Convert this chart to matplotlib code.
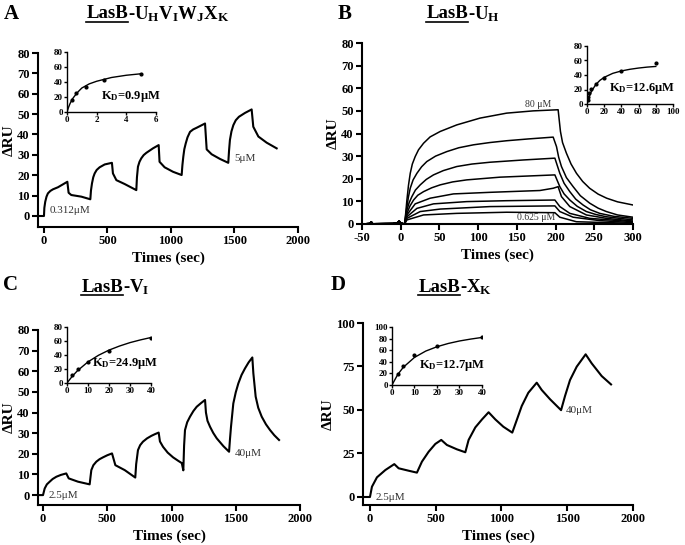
import matplotlib
matplotlib.use("Agg")
import matplotlib.pyplot as plt
from matplotlib.lines import Line2D

plt.rcParams['font.family'] = ['Liberation Serif', 'DejaVu Serif']
plt.rcParams['font.weight'] = 'bold'
plt.rcParams['mathtext.fontset'] = 'custom'
plt.rcParams['mathtext.rm'] = 'Liberation Serif:bold'
plt.rcParams['mathtext.bf'] = 'Liberation Serif:bold'
plt.rcParams['mathtext.it'] = 'Liberation Serif:bold'
plt.rcParams['mathtext.default'] = 'bf'
plt.rcParams['axes.unicode_minus'] = False

# ---- panel A: LasB-UHVIWJXK, single cycle kinetics
a_t = [-45, 0, 3, 10, 20, 31, 50, 71, 110, 184, 194, 215, 294, 365,
       370, 378, 388, 399, 415, 438, 478, 535, 543, 570, 635, 727,
       732, 740, 752, 766, 785, 806, 858, 903, 910, 950, 1016, 1084,
       1090, 1097, 1105, 1116, 1130, 1150, 1175, 1202, 1268, 1281, 1320, 1386, 1451,
       1457, 1464, 1476, 1491, 1510, 1535, 1583, 1635, 1648, 1688, 1753, 1832]
a_ru = [0, 0, 4.0, 7.0, 9.5, 11.1, 12.3, 13.1, 14.1, 16.8, 11.4, 10.3, 9.5, 8.2,
        12.5, 16.0, 19.0, 20.9, 22.6, 23.9, 25.3, 26.1, 20.9, 17.6, 15.7, 12.7,
        19.0, 24.2, 26.6, 28.3, 29.9, 31.0, 33.2, 34.8, 26.6, 23.9, 21.7, 20.1,
        25.0, 29.1, 32.8, 35.6, 38.6, 41.3, 42.5, 43.3, 45.4, 32.7, 30.3, 28.0, 26.1,
        32.0, 37.3, 41.5, 44.6, 47.0, 48.7, 50.6, 52.3, 43.8, 39.0, 36.0, 33.2]
a_conc = [0.3125, 0.625, 1.25, 2.5, 5]
a_req = [16, 26, 34, 43, 51]
a_fit_c = [0, 0.1, 0.2, 0.35, 0.5, 0.75, 1, 1.5, 2, 3, 4, 5]
a_fit_r = [0, 6, 11, 17, 21, 27, 32, 37.5, 41, 46, 49, 51]

# ---- panel B: LasB-UH, multi cycle (80 ... 0.625 uM)
b_base_t = [-50, -40, -38, -36, -10, -4, -2, 0, 5]
b_base_ru = [0, 0.2, 0.9, 0.1, 0.2, 0.6, 1.3, 0.4, 0]
b_t = [
    [6.5, 8.0, 10, 12.3, 15, 18.7, 23, 29.5, 38, 51, 72.4, 102.4, 136.8, 171.1, 203.3,
     206.3, 209, 214, 220, 227, 235, 244, 255, 266, 280, 300],
    [8.0, 10, 12.3, 16, 20.9, 27, 33.7, 45, 59.5, 75, 94, 115, 136.8, 165, 196.9,
     201.2, 204, 207.6, 214, 222.7, 232, 244.1, 255, 265.6, 280, 300],
    [8.0, 11, 14.4, 19, 25.2, 33, 42.3, 55, 72.4, 92, 115.3, 158.3, 199.1,
     205.5, 211, 218.4, 226, 235.5, 245, 257, 275, 300],
    [8.0, 12, 16.6, 22, 29.5, 40, 51, 67, 85.3, 128.2, 199.1,
     205.5, 211, 218.4, 228, 239.8, 252, 265.6, 300],
    [8.0, 18.7, 38.0, 68.1, 115.3, 179.7, 196.9, 203.3, 207.6, 218.4, 239.8, 265.6, 300],
    [8.0, 20.9, 42.3, 85.3, 136.8, 199.1, 205.5, 218.4, 244.1, 300],
    [8.0, 25.2, 51, 115.3, 199.1, 205.5, 222.7, 257, 300],
    [8.0, 29.5, 72.4, 136.8, 199.1, 205.5, 226.9, 300],
]
b_ru = [
    [5.0, 10.6, 17.0, 22.4, 26.5, 29.8, 32.8, 35.7, 38.5, 40.9, 43.8, 46.8, 49.0, 50.0, 50.5,
     40.9, 36.0, 31.3, 26.5, 22.4, 18.8, 15.8, 13.2, 11.4, 9.8, 8.4],
    [7.7, 12.0, 15.8, 19.5, 22.4, 25.3, 27.6, 30.0, 32.0, 33.7, 35.0, 36.0, 36.8, 37.6, 38.4,
     34.2, 29.5, 25.4, 20.5, 16.5, 12.5, 9.2, 7.0, 5.5, 4.0, 3.0],
    [6.2, 9.5, 12.1, 15.0, 17.3, 19.7, 21.7, 23.6, 25.4, 26.5, 27.3, 28.3, 29.1,
     22.4, 18.0, 14.3, 11.0, 8.4, 6.3, 4.7, 3.4, 2.5],
    [4.7, 8.0, 10.6, 12.7, 14.3, 16.0, 17.3, 18.6, 19.5, 20.7, 21.7,
     16.5, 13.3, 10.6, 7.8, 5.5, 4.2, 3.2, 1.8],
    [4.0, 8.9, 11.4, 13.3, 14.0, 14.8, 15.8, 16.5, 12.1, 7.7, 4.0, 2.5, 1.3],
    [3.2, 6.9, 8.9, 9.9, 10.3, 10.6, 7.7, 4.7, 2.5, 1.0],
    [2.5, 5.5, 6.6, 7.7, 8.0, 5.5, 3.0, 1.5, 0.6],
    [1.8, 4.0, 4.7, 5.2, 5.0, 3.0, 1.0, 0.3],
]
b_conc = [0.625, 1.25, 2.5, 5, 10, 20, 40, 80]
b_req = [5, 9, 15, 21, 27, 36, 46, 56]
b_fit_c = [0, 1, 2.5, 5, 10, 15, 20, 30, 40, 50, 60, 70, 80]
b_fit_r = [0, 4.4, 9.9, 17, 26.5, 32.6, 36.8, 42.3, 45.6, 47.9, 49.6, 50.9, 51.8]

# ---- panel C: LasB-VI
c_t = [-39, 0, 13, 30, 52, 75, 104, 140, 181, 200, 272, 363,
       370, 376, 392, 415, 440, 467, 500, 537, 563, 636, 718,
       725, 739, 756, 778, 810, 843, 870, 900, 910, 934, 970, 1012, 1050, 1080, 1092,
       1098, 1105, 1122, 1144, 1170, 1196, 1230, 1261, 1268, 1280, 1300, 1325, 1352, 1404, 1448,
       1455, 1463, 1481, 1500, 1520, 1545, 1572, 1600, 1629,
       1637, 1655, 1675, 1702, 1735, 1767, 1800, 1837]
c_ru = [0, 0, 3.2, 5.2, 6.5, 7.8, 8.9, 9.8, 10.5, 8.1, 6.5, 5.2,
        9.0, 12.1, 14.5, 16.2, 17.4, 18.3, 19.3, 20.2, 14.5, 12.1, 8.5,
        15.0, 21.8, 24.2, 25.9, 27.5, 28.7, 29.5, 30.3, 26.0, 23.4, 20.6, 18.3, 16.7, 15.5, 12.0,
        24.0, 31.5, 35.3, 38.0, 40.7, 42.8, 44.6, 46.1, 40.0, 36.0, 33.1, 30.1, 27.5, 23.7, 21.0,
        27.0, 33.1, 44.4, 49.8, 54.1, 58.2, 61.4, 64.3, 66.7,
        59.0, 47.7, 42.3, 38.0, 34.3, 31.5, 29.0, 26.7]
c_conc = [2.5, 5, 10, 20, 40]
c_req = [11, 20, 30, 46, 65]
c_fit_c = [0, 2.5, 5, 10, 15, 20, 25, 30, 35, 40]
c_fit_r = [0, 9.6, 17.6, 30.2, 39.6, 47.0, 52.8, 57.7, 61.6, 65.0]

# ---- panel D: LasB-XK
d_t = [-53, 0, 15, 53, 117, 185, 218, 294, 357, 395, 446, 497, 542, 585, 661, 725, 750, 801, 852,
       902, 953, 1014, 1082, 1116, 1154, 1204, 1268, 1306, 1369, 1453, 1483, 1521, 1572, 1640,
       1686, 1762, 1833]
d_ru = [0, 0, 5.9, 11.3, 15.5, 18.9, 16.5, 15.1, 14.0, 20.3, 26.0, 30.5, 32.8, 29.9, 27.4, 25.7,
        32.8, 40.0, 44.6, 48.7, 44.6, 40.4, 37.0, 44.2, 52.3, 59.9, 65.7, 61.5, 56.2, 49.9, 58.0,
        67.2, 74.9, 82.0, 76.8, 69.5, 64.7]
d_conc = [2.5, 5, 10, 20, 40]
d_req = [19, 33, 51, 67, 82]
d_fit_c = [0, 2.5, 5, 10, 15, 20, 25, 30, 35, 40]
d_fit_r = [0, 17.8, 30.5, 47.6, 58.5, 66, 71.6, 75.9, 79.2, 82]

W, H = 685, 545
fig = plt.figure(figsize=(W / 100, H / 100), dpi=100)


def px_axes(l, r, t, b):
    # axes from pixel edges (origin top-left)
    return fig.add_axes([l / W, 1 - b / H, (r - l) / W, (b - t) / H])


def style(ax, small=False):
    for s in ['top', 'right']:
        ax.spines[s].set_visible(False)
    lw = 1.0 if small else 1.5
    for s in ['left', 'bottom']:
        ax.spines[s].set_linewidth(lw)
    ax.tick_params(direction='out', length=2 if small else 4, width=lw,
                   labelsize=6.5 if small else 9, pad=1 if small else 2)
    for lab in ax.get_xticklabels() + ax.get_yticklabels():
        lab.set_fontweight('bold')


def main_labels(ax):
    ax.set_xlabel('Times (sec)', fontsize=11, fontweight='bold', labelpad=3)
    ax.set_ylabel('ΔRU', fontsize=11, fontweight='bold', labelpad=1)


def inset(l, r, t, b, xs, ys, fx, fy, xlim, ylim, xt, yt, kd, kdpos):
    ax = px_axes(l, r, t, b)
    ax.plot(fx, fy, color='black', lw=1.0)
    ax.plot(xs, ys, 'o', color='black', ms=2)
    ax.set_xlim(*xlim)
    ax.set_ylim(*ylim)
    ax.set_xticks(xt)
    ax.set_yticks(yt)
    style(ax, small=True)
    ax.text(kdpos[0], kdpos[1], kd, transform=ax.transAxes, fontsize=9, fontweight='bold')
    return ax


def title(x, y, rest):
    t1 = fig.text(x / W, 1 - y / H, 'LasB', ha='right', va='center', fontsize=13.5, fontweight='bold')
    fig.text(x / W, 1 - y / H, rest, ha='left', va='center', fontsize=13.5, fontweight='bold')
    return t1


# panel A
axA = px_axes(38, 298, 53, 227)
axA.plot(a_t, a_ru, color='black', lw=1.5)
axA.set_xlim(-47, 2000)
axA.set_ylim(-5.4, 80)
axA.set_xticks([0, 500, 1000, 1500, 2000])
axA.set_yticks(range(0, 81, 10))
style(axA)
main_labels(axA)
axA.text(48, 1.5, '0.312μM', fontsize=8, fontweight='normal', color='#333333')
axA.text(1500, 27, '5μM', fontsize=8, fontweight='normal', color='#333333')
inset(67, 156, 52, 112, a_conc, a_req, a_fit_c, a_fit_r, (0, 6), (0, 80),
      [0, 2, 4, 6], [0, 20, 40, 60, 80], 'K$_{D}$=0.9μM', (0.38, 0.22))

# panel B
axB = px_axes(362, 633, 43, 224)
for ts, rs in zip(b_t, b_ru):
    axB.plot(b_base_t + ts, b_base_ru + rs, color='black', lw=1.1)
axB.set_xlim(-50, 300)
axB.set_ylim(0, 80)
axB.set_xticks(range(-50, 301, 50))
axB.set_yticks(range(0, 81, 10))
style(axB)
main_labels(axB)
axB.text(160, 51.5, '80 μM', fontsize=7, fontweight='normal', color='#333333')
axB.text(150, 1.8, '0.625 μM', fontsize=7, fontweight='normal', color='#333333')
inset(587, 673, 46, 104, b_conc, b_req, b_fit_c, b_fit_r, (0, 100), (0, 80),
      range(0, 101, 20), range(0, 81, 20), 'K$_{D}$=12.6μM', (0.26, 0.22))

# panel C
axC = px_axes(38, 300, 330, 505)
axC.plot(c_t, c_ru, color='black', lw=1.5)
axC.set_xlim(-39, 2000)
axC.set_ylim(-4.8, 80)
axC.set_xticks([0, 500, 1000, 1500, 2000])
axC.set_yticks(range(0, 81, 10))
style(axC)
main_labels(axC)
axC.text(40, -1.5, '2.5μM', fontsize=8, fontweight='normal', color='#333333')
axC.text(1490, 19, '40μM', fontsize=8, fontweight='normal', color='#333333')
inset(67, 151, 327, 383, c_conc, c_req, c_fit_c, c_fit_r, (0, 40), (0, 80),
      [0, 10, 20, 30, 40], [0, 20, 40, 60, 80], 'K$_{D}$=24.9μM', (0.3, 0.3))

# panel D
axD = px_axes(363, 633, 323, 505)
axD.plot(d_t, d_ru, color='black', lw=1.5)
axD.set_xlim(-53, 2000)
axD.set_ylim(-4.6, 100)
axD.set_xticks([0, 500, 1000, 1500, 2000])
axD.set_yticks([0, 25, 50, 75, 100])
style(axD)
main_labels(axD)
axD.text(40, -1.5, '2.5μM', fontsize=8, fontweight='normal', color='#333333')
axD.text(1490, 48, '40μM', fontsize=8, fontweight='normal', color='#333333')
inset(392, 482, 327, 385, d_conc, d_req, d_fit_c, d_fit_r, (0, 40), (0, 100),
      [0, 10, 20, 30, 40], range(0, 101, 20), 'K$_{D}$=12.7μM', (0.3, 0.3))

# panel letters and titles
for lx, ly, letter in [(11, 14, 'A'), (345, 14, 'B'), (10, 285, 'C'), (338, 285, 'D')]:
    fig.text(lx / W, 1 - ly / H, letter, ha='center', va='center', fontsize=15, fontweight='bold')

titles = [
    title(128, 14, '-U$_{H}$V$_{I}$W$_{J}$X$_{K}$'),
    title(468, 14, '-U$_{H}$'),
    title(123, 287, '-V$_{I}$'),
    title(460, 287, '-X$_{K}$'),
]

# underline "LasB"
fig.canvas.draw()
rend = fig.canvas.get_renderer()
for t in titles:
    bb = t.get_window_extent(renderer=rend)
    yline = bb.y0 + 1
    fig.add_artist(Line2D([bb.x0 / W, bb.x1 / W], [yline / H, yline / H],
                          transform=fig.transFigure, color='black', lw=1.2))

fig.savefig('out.png', dpi=100)
